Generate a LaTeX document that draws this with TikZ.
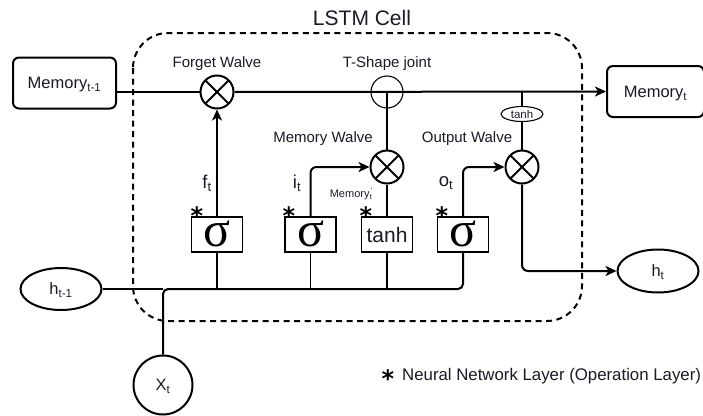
\documentclass[tikz,border=0pt]{standalone}
\usepackage{fontspec}
\setmainfont{Liberation Sans}
\newfontfamily\sigfont{Liberation Serif}
\newfontfamily\markfont{DejaVu Sans}
\usetikzlibrary{arrows.meta,shapes.geometric}

\definecolor{ink}{RGB}{26,26,38}

\tikzset{
  thickline/.style={line width=2pt},
  thinline/.style={line width=1.1pt},
  tip/.style={-{Stealth[length=11pt,width=10pt,inset=3pt]}},
  capfit/.style={text height=#1,text depth=0pt},
  walve/.style={circle,draw,line width=2pt,minimum size=33pt,inner sep=0pt,
    path picture={\draw[line width=2pt]
      (path picture bounding box.north west) -- (path picture bounding box.south east)
      (path picture bounding box.north east) -- (path picture bounding box.south west);}},
  joint/.style={circle,draw,line width=1.1pt,minimum size=32pt,inner sep=0pt},
  membox/.style={draw,line width=2pt,rounded corners=6pt,minimum height=51pt,inner sep=0pt,
    text=ink,capfit=11.9pt,font=\fontsize{16.5}{18}\selectfont},
  layerbox/.style={draw,line width=1.2pt,minimum width=51pt,minimum height=35pt,inner sep=0pt},
  sigmatext/.style={capfit=23pt,font=\sigfont\fontsize{50}{50}\selectfont},
  stateoval/.style={ellipse,draw,line width=2pt,minimum width=81pt,minimum height=42pt,inner sep=0pt,
    text=ink,capfit=11.9pt,font=\fontsize{16.5}{18}\selectfont},
  lbl/.style={text=ink,capfit=10.8pt,inner sep=0pt,font=\fontsize{15}{17}\selectfont},
  gatelbl/.style={text=ink,capfit=13.3pt,inner sep=0pt,font=\fontsize{18.5}{20}\selectfont},
  nnmark/.style={anchor=base,inner sep=0pt,capfit=13pt,font=\markfont\bfseries\fontsize{24}{24}\selectfont},
}

\begin{document}
\begin{tikzpicture}[x=1pt,y=1pt,yscale=-1]
\useasboundingbox (0,0) rectangle (703,415);

%Shape: dashed cell border
\draw[line width=2pt,dash pattern=on 6pt off 4.5pt,rounded corners=35pt] (133,33) rectangle (582,321);
\node[text=ink,capfit=15.1pt,font=\fontsize{21}{23}\selectfont] (title) at (362,18) {LSTM Cell};

%Memory line
\node[membox,minimum width=103pt] (mprev) at (64.5,83) {Memory\textsubscript{t-1}};
\node[membox,minimum width=97pt] (mnext) at (655.5,91.5) {Memory\textsubscript{t}};
\node[walve] (fw) at (217,92) {};
\node[joint] (tj) at (387,92) {};
\node[ellipse,draw,line width=1.1pt,minimum width=42pt,minimum height=15pt,inner sep=0pt,
  text=ink,capfit=8.3pt,font=\fontsize{11.5}{12}\selectfont] (tanhc) at (522,114) {tanh};

% Text Node
\node[lbl] (fwlbl) at (217,62) {Forget Walve};
\node[lbl] (tjlbl) at (387,62) {T-Shape joint};
\node[lbl] (mwlbl) at (323,137) {Memory Walve};
\node[lbl] (owlbl) at (467,137) {Output Walve};

%Walves
\node[walve] (mw) at (387,167) {};
\node[walve] (ow) at (522,167) {};

%Layers
\node[layerbox,sigmatext] (sf) at (217,234.5) {σ};
\node[layerbox,sigmatext] (si) at (310.5,234.5) {σ};
\node[layerbox,text=ink,capfit=15.1pt,font=\fontsize{21}{22}\selectfont] (tb) at (387,234.5) {tanh};
\node[layerbox,sigmatext] (so) at (463,234.5) {σ};
\node[nnmark] (sfmark) at (197,224) {*};
\node[nnmark] (simark) at (289,224) {*};
\node[nnmark] (tbmark) at (366,224) {*};
\node[nnmark] (somark) at (442,224) {*};

%Inputs and output
\node[stateoval] (hprev) at (61,289) {h\textsubscript{t-1}};
\node[circle,draw,line width=2pt,minimum size=59pt,inner sep=0pt,
  text=ink,capfit=11.9pt,font=\fontsize{16.5}{18}\selectfont] (xt) at (163,385) {X\textsubscript{t}};
\node[stateoval,minimum height=43pt] (ht) at (658,271) {h\textsubscript{t}};

%Connections
\draw[thickline] (mprev.east |- fw) -- (fw.west);
\draw[thickline,tip] (fw.east) -- (mnext.west);
\draw[thinline] (tj.center) -- (mw.north);
\draw[thinline] (tanhc.north |- fw) -- (tanhc.north);
\draw[thinline] (tanhc.south) -- (ow.north);
\draw[thickline,tip] (sf.north) -- (fw.south);
\draw[thickline,tip,rounded corners=6pt] (si.north) |- (mw.west);
\draw[thinline] (tb.north) -- (mw.south);
\draw[thickline,tip,rounded corners=6pt] (so.north) |- (ow.west);
\draw[thickline,tip,rounded corners=6pt] (ow.south) |- (ht.west);
\draw[thinline] (hprev.east) -- (xt.north |- hprev.east);
\draw[thickline,rounded corners=5pt] (xt.north) |- (so.south |- hprev.east) -- (so.south);
\draw[thinline] (sf.south) -- (sf.south |- hprev.east);
\draw[thinline] (si.south) -- (si.south |- hprev.east);
\draw[thinline] (tb.south) -- (tb.south |- hprev.east);

% Gate labels
\node[gatelbl] (flbl) at (207,182) {f\textsubscript{t}};
\node[gatelbl] (ilbl) at (297,182) {i\textsubscript{t}};
\node[gatelbl] (olbl) at (446,180) {o\textsubscript{t}};
\node[text=ink,inner sep=0pt,font=\fontsize{11}{12}\selectfont] (mcand) at (351,194)
  {Memory\rlap{\textsuperscript{\,'}}\textsubscript{t}};

%Legend
\node[nnmark] (legmark) at (388,387) {*};
\node[anchor=west,text=ink,capfit=12.1pt,inner sep=0pt,font=\fontsize{16.8}{18}\selectfont] (legend) at (402,374)
  {Neural Network Layer (Operation Layer)};

\end{tikzpicture}
\end{document}
